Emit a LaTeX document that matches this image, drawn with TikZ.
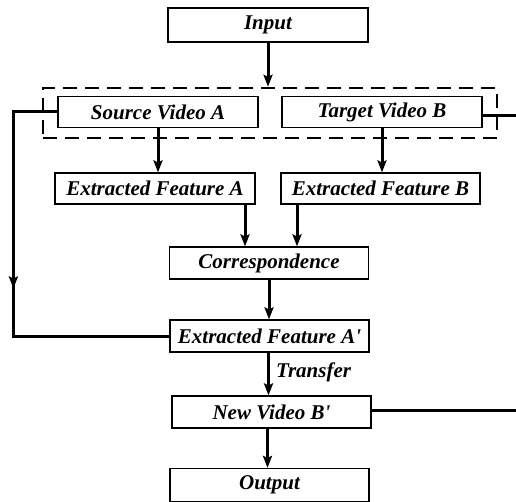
\documentclass[tikz,border=0pt]{standalone}
\usepackage{fontspec}
\setmainfont{Liberation Serif}
\usetikzlibrary{arrows.meta,calc,decorations.markings}
\begin{document}
\begin{tikzpicture}[x=1pt,y=-1pt,
  box/.style={draw,line width=1.2pt,rectangle,minimum width=200pt,minimum height=31pt,inner sep=0pt,
    font=\fontsize{21}{23}\selectfont\bfseries\itshape},
  arr/.style={line width=3pt,-{Stealth[length=12pt,width=9pt,inset=2pt]}},
  thickline/.style={line width=3pt},
  grpbox/.style={draw,dashed,line width=2.5pt,dash pattern=on 14pt off 8pt,minimum width=454pt,minimum height=50pt,inner sep=0pt},
  lbl/.style={font=\fontsize{21}{23}\selectfont\bfseries\itshape,inner sep=0pt}]
\useasboundingbox (0,0) rectangle (516,502);
\node[box,minimum height=34pt] (input) at (268,25) {Input};
\node[grpbox] (grp) at (270,113) {};
\node[box] (src) at (158,112) {Source Video A};
\node[box] (tgt) at (382,112) {Target Video B};
\node[box] (efa) at (155,188.5) {Extracted Feature A};
\node[box,minimum width=199pt] (efb) at (380.5,188.5) {Extracted Feature B};
\node[box,minimum width=199pt,minimum height=32pt] (corr) at (269,263) {Correspondence};
\node[box,minimum width=199pt,minimum height=32pt] (efap) at (269.5,336) {Extracted Feature A\textquotesingle};
\node[box,minimum width=199pt,minimum height=32pt] (newb) at (271.5,412) {New Video B\textquotesingle};
\node[box,minimum width=199pt,minimum height=33pt] (out) at (269.5,485) {Output};
\coordinate (rA) at (516,116);
\coordinate (rB) at (516,410);
\coordinate (ca) at ($(corr.north)+(-24,0)$);
\coordinate (cb) at ($(corr.north)+(28,0)$);
\coordinate (ta) at ($(efap.south)+(-1,0)$);
\coordinate (oa) at ($(newb.south)+(-4,0)$);
% arrows
\draw[arr] (input.south) -- (input.south |- grp.north);
\draw[arr] (src.south) -- (src.south |- efa.north);
\draw[arr] (tgt.south) -- (tgt.south |- efb.north);
\draw[arr] (ca |- efa.south) -- (ca);
\draw[arr] (cb |- efb.south) -- (cb);
\draw[arr] (corr.south) -- (corr.south |- efap.north);
\draw[arr] (ta) -- node[lbl,right=6pt,pos=0.45] {Transfer} (ta |- newb.north);
\draw[arr] (oa) -- (oa |- out.north);
% loop
\draw[thickline,postaction={decorate},
  decoration={markings,mark=at position 0.52 with {\arrow{Stealth[length=12pt,width=9pt,inset=2pt]}}}]
  (src.west) -- ++(-44,0) |- (efap.west);
\draw[thickline] (tgt.east |- rA) -- (rA);
\draw[thickline] (newb.east |- rB) -- (rB);
\end{tikzpicture}
\end{document}
